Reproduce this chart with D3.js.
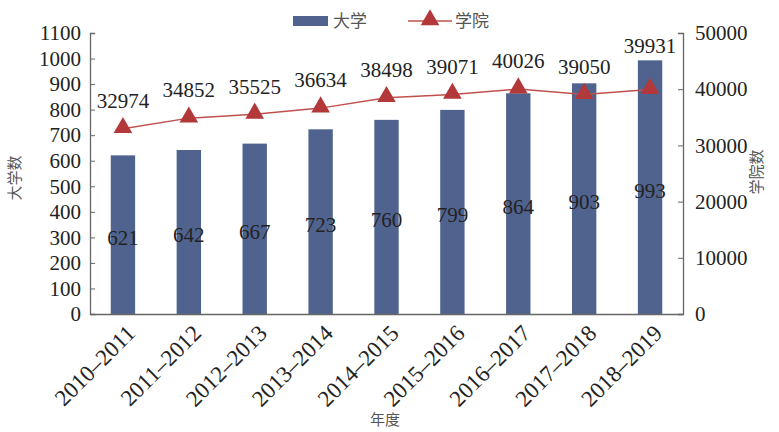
<!DOCTYPE html>
<html>
<head>
<meta charset="utf-8">
<script src="https://cdn.jsdelivr.net/npm/d3@7"></script>
<style>
  body { margin: 0; background: #fff; }
  .num { font-family: "Liberation Serif", "DejaVu Serif", serif; fill: #222; }
  .cjk { font-family: "Noto Sans CJK SC", sans-serif; fill: #555; }
</style>
</head>
<body>
<svg id="chart"></svg>
<script>
const years = ['2010–2011', '2011–2012', '2012–2013', '2013–2014', '2014–2015',
  '2015–2016', '2016–2017', '2017–2018', '2018–2019'];
const universities = [621, 642, 667, 723, 760, 799, 864, 903, 993];
const colleges = [32974, 34852, 35525, 36634, 38498, 39071, 40026, 39050, 39931];
const leftTicks = d3.range(0, 1101, 100);
const rightTicks = [0, 10000, 20000, 30000, 40000, 50000];

const width = 779;
const height = 432;
const marginTop = 33;
const marginRight = 96;
const marginBottom = 118;
const marginLeft = 90;

const serif = '"Liberation Serif", "DejaVu Serif", serif';
const barColor = '#50638f';
const lineColor = '#c0504d';
const markColor = '#b2383a';
const axisColor = '#666';

const svg = d3.select('#chart')
  .attr('width', width)
  .attr('height', height);

const x = d3.scaleBand()
  .domain(years)
  .range([marginLeft, width - marginRight])
  .paddingInner(0.63)
  .paddingOuter(0.315);

const y = d3.scaleLinear()
  .domain([0, 1100])
  .range([height - marginBottom, marginTop]);

const y2 = d3.scaleLinear()
  .domain([0, 50000])
  .range([height - marginBottom, marginTop]);

// bars
svg.append('g')
  .selectAll('rect')
  .data(universities)
  .join('rect')
  .attr('x', (d, i) => x(years[i]))
  .attr('y', d => y(d))
  .attr('width', x.bandwidth())
  .attr('height', d => y(0) - y(d))
  .attr('fill', barColor);

// axes
const leftAxis = svg.append('g')
  .attr('transform', `translate(${marginLeft}, 0)`)
  .call(d3.axisLeft(y).tickValues(leftTicks).tickFormat(d3.format('d')).tickSize(-5).tickPadding(9));

const rightAxis = svg.append('g')
  .attr('transform', `translate(${width - marginRight}, 0)`)
  .call(d3.axisRight(y2).tickValues(rightTicks).tickFormat(d3.format('d')).tickSize(-5).tickPadding(12));

const bottomAxis = svg.append('g')
  .attr('transform', `translate(0, ${height - marginBottom})`)
  .call(d3.axisBottom(x).tickSize(0));

[leftAxis, rightAxis, bottomAxis].forEach(g => {
  g.attr('font-family', serif).attr('font-size', 21);
  g.select('.domain').attr('stroke', axisColor).attr('stroke-width', 1.3);
  g.selectAll('.tick line').attr('stroke', axisColor);
  g.selectAll('.tick text').attr('fill', '#222');
});

bottomAxis.selectAll('.tick text')
  .attr('font-size', 23)
  .attr('text-anchor', 'end')
  .attr('x', 0)
  .attr('y', 0)
  .attr('dy', '0.35em')
  .attr('transform', 'translate(8, 15) rotate(-45)');

// line
const line = d3.line()
  .x((d, i) => x(years[i]) + x.bandwidth() / 2)
  .y(d => y2(d));

svg.append('path')
  .datum(colleges)
  .attr('d', line)
  .attr('fill', 'none')
  .attr('stroke', lineColor)
  .attr('stroke-width', 1.5);

const tri = d3.symbol().type(d3.symbolTriangle).size(150);

svg.append('g')
  .selectAll('path')
  .data(colleges)
  .join('path')
  .attr('d', tri)
  .attr('transform', (d, i) => `translate(${x(years[i]) + x.bandwidth() / 2}, ${y2(d) - 1})`)
  .attr('fill', markColor);

// labels
svg.append('g')
  .selectAll('text')
  .data(universities)
  .join('text')
  .attr('class', 'num')
  .attr('x', (d, i) => x(years[i]) + x.bandwidth() / 2)
  .attr('y', d => y(d / 2) + 3)
  .attr('dy', '0.35em')
  .attr('text-anchor', 'middle')
  .style('font-size', '21px')
  .text(d => d);

svg.append('g')
  .selectAll('text')
  .data(colleges)
  .join('text')
  .attr('class', 'num')
  .attr('x', (d, i) => x(years[i]) + x.bandwidth() / 2)
  .attr('y', (d, i) => y2(d) - (i === colleges.length - 1 ? 44 : 28))
  .attr('dy', '0.35em')
  .attr('text-anchor', 'middle')
  .style('font-size', '21px')
  .text(d => d);

// axis titles
svg.append('text')
  .attr('class', 'cjk')
  .attr('transform', `translate(20, 178) rotate(-90)`)
  .attr('text-anchor', 'middle')
  .style('font-size', '15px')
  .text('大学数');

svg.append('text')
  .attr('class', 'cjk')
  .attr('transform', `translate(762, 172) rotate(-90)`)
  .attr('text-anchor', 'middle')
  .style('font-size', '15px')
  .text('学院数');

svg.append('text')
  .attr('class', 'cjk')
  .attr('x', 385)
  .attr('y', 425)
  .attr('text-anchor', 'middle')
  .style('font-size', '15px')
  .text('年度');

// legend
const legend = svg.append('g');
legend.append('rect')
  .attr('x', 293).attr('y', 16).attr('width', 35).attr('height', 10)
  .attr('fill', barColor);
legend.append('text')
  .attr('class', 'cjk').attr('x', 333).attr('y', 21).attr('dy', '0.35em')
  .style('font-size', '17px').text('大学');
legend.append('line')
  .attr('x1', 408).attr('x2', 452).attr('y1', 21).attr('y2', 21)
  .attr('stroke', lineColor).attr('stroke-width', 1.5);
legend.append('path')
  .attr('d', tri)
  .attr('transform', 'translate(430, 20)')
  .attr('fill', markColor);
legend.append('text')
  .attr('class', 'cjk').attr('x', 455).attr('y', 21).attr('dy', '0.35em')
  .style('font-size', '17px').text('学院');
</script>
</body>
</html>
